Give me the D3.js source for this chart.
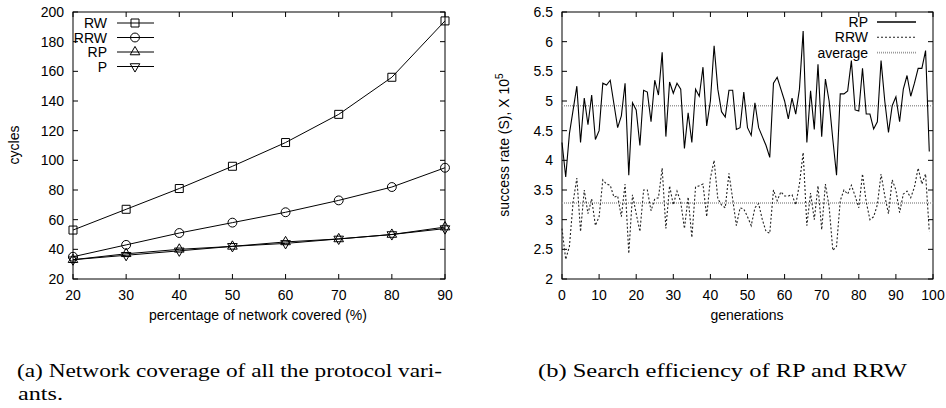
<!DOCTYPE html>
<html><head><meta charset="utf-8">
<script src="https://cdn.jsdelivr.net/npm/d3@7"></script>
<style>
body{margin:0;background:#fff;}
text{font-family:"Liberation Sans",Arial,sans-serif;}
</style></head>
<body><svg id="c" width="946" height="408"></svg>
<script>
// ---- Left chart data ----
const coverage = [20,30,40,50,60,70,80,90];
const cyclesRW  = [53,67,81,96,112,131,156,194];
const cyclesRRW = [35,43,51,58,65,73,82,95];
const cyclesRP  = [33,37,40,42,45,47,50,55];
const cyclesP   = [33,36,39,42,44,47,50,54];
const leftYTicks = [20,40,60,80,100,120,140,160,180,200];
const leftXTicks = [20,30,40,50,60,70,80,90];

// ---- Right chart data ----
const rateRP = [4.3,3.72,4.45,4.85,5.25,4.3,5.05,4.6,5.1,4.35,
  4.5,5.3,5.27,5.35,4.95,4.55,4.75,5.3,3.75,4.97,
  4.85,4.25,5.18,5.15,4.65,5.35,5.1,5.82,4.4,5.32,
  5.13,5.3,5.2,4.2,4.8,4.3,5.2,5.08,5.57,4.58,
  5.0,5.93,5.2,4.82,4.73,5.18,5.18,4.52,4.55,5.15,
  4.55,4.42,4.97,4.55,4.4,4.25,4.05,5.3,5.4,5.2,
  5.0,4.7,5.05,4.78,5.2,6.18,4.3,5.17,4.52,5.62,
  4.4,5.37,5.0,4.35,3.75,5.12,5.12,5.17,5.68,4.85,
  4.83,5.55,4.78,4.78,4.53,4.65,5.68,5.0,4.47,4.92,
  5.07,4.65,5.2,5.43,5.08,5.3,5.55,5.55,5.85,4.15];
const rateRRW = [2.85,2.33,2.55,3.3,3.7,2.8,3.5,3.1,3.35,2.9,
  3.05,3.67,3.6,3.58,3.38,3.4,3.05,3.6,2.43,3.42,
  3.1,2.8,3.5,3.5,3.15,3.35,3.37,3.87,2.85,3.57,
  3.25,3.48,3.3,2.85,3.38,2.7,3.55,3.57,3.6,3.05,
  3.7,4.0,3.35,3.25,3.2,3.78,3.35,2.9,3.2,3.18,
  3.05,2.9,3.2,3.27,3.0,2.8,2.77,3.5,3.32,3.47,
  3.4,3.4,3.42,3.25,3.6,4.13,2.9,3.45,3.0,3.57,
  2.83,3.6,3.22,2.48,2.55,3.32,3.5,3.43,3.58,3.4,
  3.2,3.77,3.3,3.0,3.05,3.25,3.77,3.4,3.1,3.67,
  3.5,3.12,3.43,3.48,3.37,3.55,3.87,3.6,3.77,2.8];
const avgRP = 4.92, avgRRW = 3.28;
const rightYTicks = [2,2.5,3,3.5,4,4.5,5,5.5,6,6.5];
const rightXTicks = [0,10,20,30,40,50,60,70,80,90,100];

const svg = d3.select("#c");
const FS = 14;

function frame(g, x, y, xt, yt, fmtY){
  const [x0,x1] = x.range(), [y0,y1] = y.range();
  const tl = 5;
  g.append("rect").attr("x",x0).attr("y",y1).attr("width",x1-x0).attr("height",y0-y1)
    .attr("fill","none").attr("stroke","#000").attr("stroke-width",1);
  xt.forEach(v=>{
    const px = x(v);
    g.append("line").attr("x1",px).attr("x2",px).attr("y1",y0).attr("y2",y0-tl).attr("stroke","#000");
    g.append("line").attr("x1",px).attr("x2",px).attr("y1",y1).attr("y2",y1+tl).attr("stroke","#000");
    g.append("text").attr("x",px).attr("y",y0+21).attr("text-anchor","middle")
      .attr("font-size",FS).text(v);
  });
  yt.forEach(v=>{
    const py = y(v);
    g.append("line").attr("x1",x0).attr("x2",x0+tl).attr("y1",py).attr("y2",py).attr("stroke","#000");
    g.append("line").attr("x1",x1).attr("x2",x1-tl).attr("y1",py).attr("y2",py).attr("stroke","#000");
    g.append("text").attr("x",x0-9).attr("y",py+5).attr("text-anchor","end")
      .attr("font-size",FS).text(fmtY(v));
  });
}

// ---------- Left chart ----------
const xL = d3.scaleLinear().domain([20,90]).range([73,445]);
const yL = d3.scaleLinear().domain([20,200]).range([279,12]);
const gL = svg.append("g");
frame(gL, xL, yL, leftXTicks, leftYTicks, d=>d);
gL.append("text").attr("transform","translate(19,145) rotate(-90)").attr("text-anchor","middle")
  .attr("font-size",FS).text("cycles");
gL.append("text").attr("x",258).attr("y",320).attr("text-anchor","middle")
  .attr("font-size",FS).text("percentage of network covered (%)");

const symbols = {
  square: d3.symbol().type(d3.symbolSquare).size(64),
  circle: d3.symbol().type(d3.symbolCircle).size(62),
  tri: d3.symbol().type(d3.symbolTriangle).size(40),
};
const seriesL = [
  {name:"RW", vals:cyclesRW, sym:"square", rot:0},
  {name:"RRW", vals:cyclesRRW, sym:"circle", rot:0},
  {name:"RP", vals:cyclesRP, sym:"tri", rot:0},
  {name:"P", vals:cyclesP, sym:"tri", rot:180},
];
const lineL = d3.line().x((d,i)=>xL(coverage[i])).y(d=>yL(d));
seriesL.forEach((s,k)=>{
  gL.append("path").attr("d",lineL(s.vals)).attr("fill","none").attr("stroke","#000").attr("stroke-width",1);
  s.vals.forEach((v,i)=>{
    gL.append("path").attr("d",symbols[s.sym]())
      .attr("transform",`translate(${xL(coverage[i])},${yL(v)}) rotate(${s.rot})`)
      .attr("fill","none").attr("stroke","#000").attr("stroke-width",1);
  });
  const ly = 23 + k*14.5;
  gL.append("text").attr("x",107).attr("y",ly+5).attr("text-anchor","end").attr("font-size",FS).text(s.name);
  gL.append("line").attr("x1",117).attr("x2",154).attr("y1",ly).attr("y2",ly).attr("stroke","#000");
  gL.append("path").attr("d",symbols[s.sym]()).attr("transform",`translate(135,${ly}) rotate(${s.rot})`)
    .attr("fill","none").attr("stroke","#000");
});

// ---------- Right chart ----------
const xR = d3.scaleLinear().domain([0,100]).range([562,933]);
const yR = d3.scaleLinear().domain([2,6.5]).range([279,12]);
const gR = svg.append("g");
frame(gR, xR, yR, rightXTicks, rightYTicks, d=>d);
const yl = gR.append("text").attr("transform","translate(509,145) rotate(-90)").attr("text-anchor","middle")
  .attr("font-size",FS);
yl.append("tspan").text("success rate (S), X 10");
yl.append("tspan").attr("font-size",10).attr("dy",-6).text("5");
gR.append("text").attr("x",747).attr("y",320).attr("text-anchor","middle").attr("font-size",FS).text("generations");

// averages
[avgRP, avgRRW].forEach(a=>{
  gR.append("line").attr("x1",xR(0)).attr("x2",xR(100)).attr("y1",yR(a)).attr("y2",yR(a))
    .attr("stroke","#999").attr("stroke-width",1.6).attr("stroke-dasharray","1,1");
});
const lineR = d3.line().x((d,i)=>xR(i)).y(d=>yR(d));
gR.append("path").attr("d",lineR(rateRRW)).attr("fill","none").attr("stroke","#222")
  .attr("stroke-width",1.1).attr("stroke-dasharray","2,2");
gR.append("path").attr("d",lineR(rateRP)).attr("fill","none").attr("stroke","#000").attr("stroke-width",1.1);

// legend
const legR = [
  {name:"RP", dash:null, color:"#000", w:1.3},
  {name:"RRW", dash:"2,2", color:"#222", w:1.1},
  {name:"average", dash:"1,1", color:"#999", w:1.6},
];
legR.forEach((l,k)=>{
  const ly = 22 + k*15.3;
  gR.append("text").attr("x",868).attr("y",ly+5).attr("text-anchor","end").attr("font-size",FS).text(l.name);
  const ln = gR.append("line").attr("x1",877).attr("x2",916).attr("y1",ly).attr("y2",ly)
    .attr("stroke",l.color).attr("stroke-width",l.w);
  if(l.dash) ln.attr("stroke-dasharray",l.dash);
});

// captions
const capFont = "'Liberation Serif','DejaVu Serif',serif";
function caption(x, y, txt, len){
  svg.append("text").attr("x",x).attr("y",y).style("font-family",capFont).attr("font-size",19)
    .attr("textLength",len).attr("lengthAdjust","spacingAndGlyphs").text(txt);
}
caption(17, 377, "(a) Network coverage of all the protocol vari-", 425);
caption(18, 400, "ants.", 45);
caption(538, 377, "(b) Search efficiency of RP and RRW", 369);
</script></body></html>
